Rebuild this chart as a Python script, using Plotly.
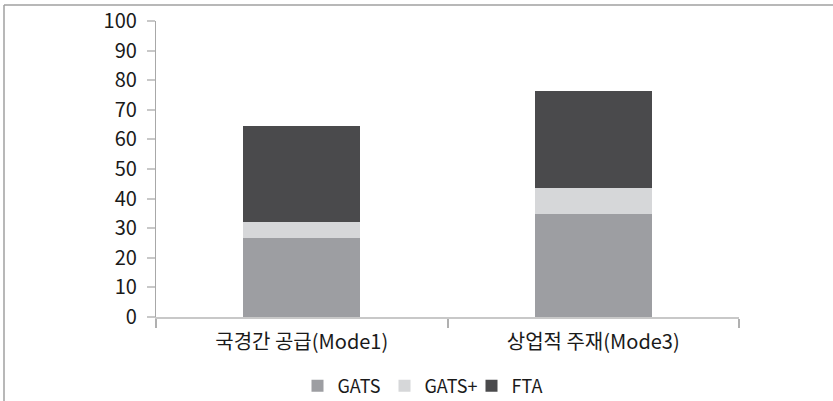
import plotly.graph_objects as go

categories = ["국경간 공급(Mode1)", "상업적 주재(Mode3)"]
gats = [26.6, 34.8]
gats_plus = [5.6, 8.7]
fta = [32.2, 33.0]
y_ticks = [0, 10, 20, 30, 40, 50, 60, 70, 80, 90, 100]

FONT = "Noto Sans CJK KR"

fig = go.Figure()
fig.add_trace(go.Bar(name="GATS", x=categories, y=gats, marker=dict(color="#9d9ea2", line=dict(width=0))))
fig.add_trace(go.Bar(name="GATS+", x=categories, y=gats_plus, marker=dict(color="#d6d7d9", line=dict(width=0))))
fig.add_trace(go.Bar(name="FTA", x=categories, y=fta, marker=dict(color="#4a4a4c", line=dict(width=0))))

W, H = 833, 401
L, R, T, B = 156, 94, 21, 84
pw, ph = W - L - R, H - T - B

def px_to_paper_x(px):
    return (px - L) / pw

def px_to_paper_y(py):
    return (H - B - py) / ph

fig.update_layout(
    barmode="stack",
    bargap=0.6,
    width=W, height=H,
    margin=dict(l=L, r=R, t=T, b=B, pad=0, autoexpand=False),
    paper_bgcolor="white",
    plot_bgcolor="white",
    font=dict(family=FONT, color="#1a1a1a", size=20),
    showlegend=True,
    legend=dict(
        orientation="h",
        x=px_to_paper_x(428), xanchor="center",
        y=px_to_paper_y(386), yanchor="middle",
        font=dict(size=18, family=FONT, color="#1a1a1a"),
        itemwidth=30,
        entrywidth=42,
        traceorder="normal",
    ),
    xaxis=dict(
        showline=True, linecolor="#c8c8c8", linewidth=1.5,
        ticks="outside", ticklen=9, tickcolor="#b0b0b0", tickwidth=1.5,
        tickson="boundaries",
        ticklabelstandoff=6,
        tickfont=dict(size=20, family=FONT),
        showgrid=False, zeroline=False,
        automargin=False,
    ),
    yaxis=dict(
        range=[0, 100],
        tickvals=y_ticks,
        showline=True, linecolor="#a8a8a8", linewidth=1.2,
        ticks="outside", ticklen=8, tickcolor="#c8c8c8", tickwidth=1.5,
        ticklabelstandoff=6,
        tickfont=dict(size=20, family=FONT),
        showgrid=False, zeroline=False,
        automargin=False,
    ),
)

# Frame lines (top and left) of the original figure box
fig.add_shape(type="line", xref="paper", yref="paper",
              x0=px_to_paper_x(4), x1=px_to_paper_x(840),
              y0=px_to_paper_y(5), y1=px_to_paper_y(5),
              line=dict(color="#a0a0a0", width=1.5))
fig.add_shape(type="line", xref="paper", yref="paper",
              x0=px_to_paper_x(4), x1=px_to_paper_x(4),
              y0=px_to_paper_y(5), y1=px_to_paper_y(410),
              line=dict(color="#a0a0a0", width=1.5))

fig.write_html("out.html")
